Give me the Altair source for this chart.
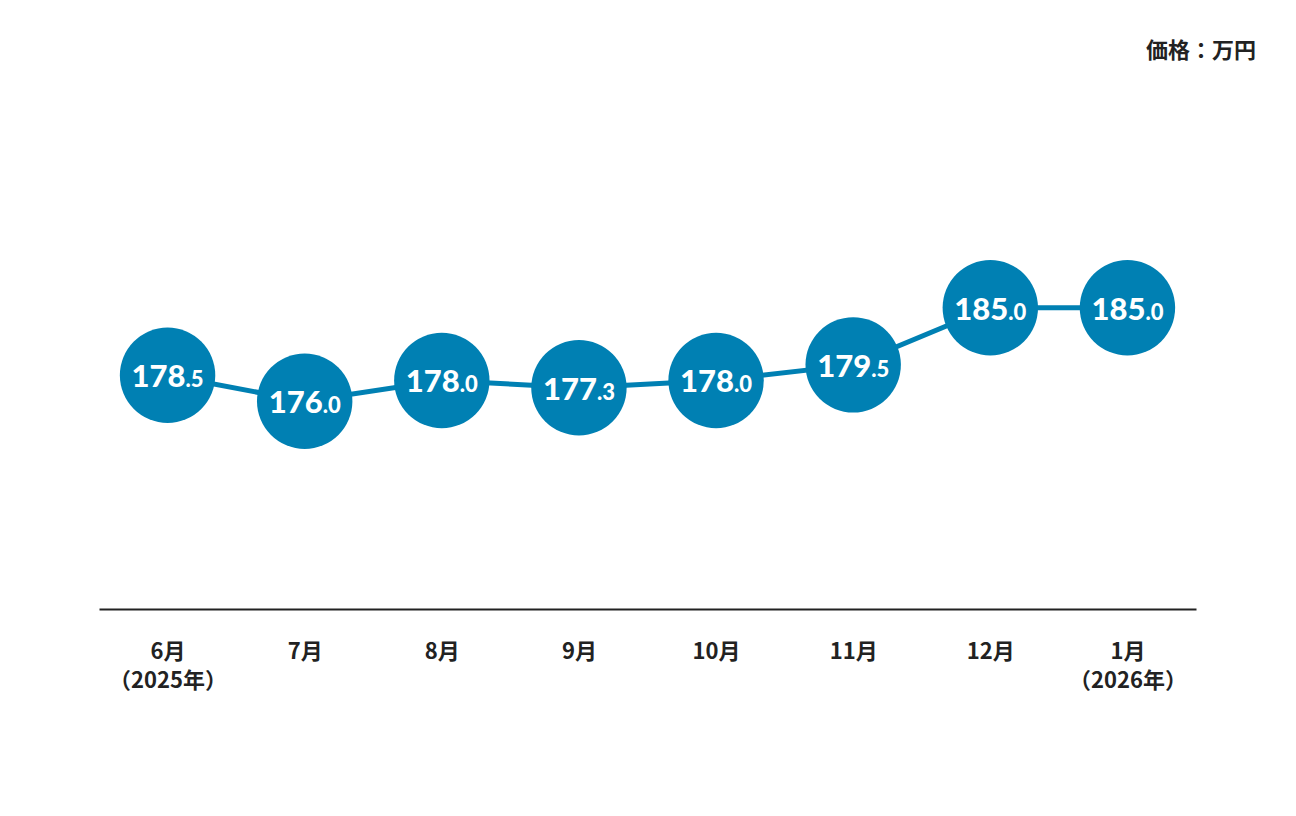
import altair as alt
import pandas as pd

months = ["6月\n（2025年）", "7月", "8月", "9月", "10月", "11月", "12月", "1月\n（2026年）"]
prices = [178.5, 176.0, 178.0, 177.3, 178.0, 179.5, 185.0, 185.0]
int_parts = ["178", "176", "178", "177", "178", "179", "185", "185"]
dec_parts = [".5", ".0", ".0", ".3", ".0", ".5", ".0", ".0"]
unit_label = "価格：万円"

BLUE = "#0080b3"
df = pd.DataFrame({"month": months, "price": prices, "ip": int_parts, "dp": dec_parts})

x = alt.X("month:N", sort=months, title=None,
          scale=alt.Scale(paddingInner=0, paddingOuter=0),
          axis=alt.Axis(labelAngle=0, ticks=False, domainColor="#222222", domainWidth=2,
                        labelExpr="split(datum.value, '\\n')", labelFont="Noto Sans CJK JP",
                        labelFontSize=22, labelFontWeight="bold", labelColor="#222222",
                        labelBaseline="top", labelPadding=32, labelLineHeight=29))
y = alt.Y("price:Q", scale=alt.Scale(domain=[156, 210], zero=False, nice=False), axis=None)

base = alt.Chart(df).encode(x=x, y=y)
line = base.mark_line(color=BLUE, strokeWidth=5)
dots = base.mark_circle(size=9100, color=BLUE, opacity=1)
ints = base.mark_text(align="right", baseline="alphabetic", dx=18, dy=12, font="Lato",
                      fontSize=31, fontWeight=900, color="white").encode(text="ip:N")
decs = base.mark_text(align="left", baseline="alphabetic", dx=18, dy=12, font="Lato",
                      fontSize=22, fontWeight=900, color="white").encode(text="dp:N")
unit = alt.Chart(pd.DataFrame({"t": [unit_label]})).mark_text(
    align="right", baseline="middle", font="Noto Sans CJK JP", fontSize=22,
    fontWeight="bold", color="#222222").encode(
    x=alt.value(1157), y=alt.value(3), text="t:N")

chart = alt.layer(line, dots, ints, decs, unit).properties(
    width=1097, height=561,
    autosize=alt.AutoSizeParams(type="none"),
    padding={"left": 91, "top": 40, "right": 92, "bottom": 199},
).configure_view(stroke=None)

chart.save("out.html", embed_options={"renderer": "svg", "actions": False})
